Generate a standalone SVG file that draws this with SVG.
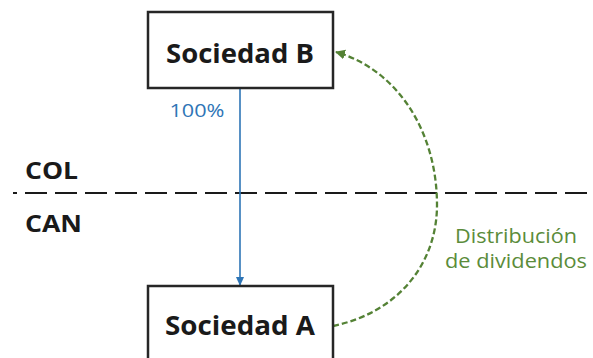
<svg xmlns="http://www.w3.org/2000/svg" width="593" height="358" viewBox="0 0 593 358">
<style>
.box{fill:#fff;stroke:#262626;stroke-width:2.5}
.lbl{font-family:"Open Sans","Liberation Sans",sans-serif;font-weight:bold;font-size:27px;fill:#1a1a1a;text-anchor:middle}
.side{font-family:"Open Sans","Liberation Sans",sans-serif;font-weight:bold;font-size:23px;fill:#1a1a1a}
.g{font-family:"Open Sans","Liberation Sans",sans-serif;font-size:20px;fill:#5B8C3A;text-anchor:middle}
</style>
<defs>
<marker id="ab" markerWidth="10" markerHeight="10" refX="8" refY="5" orient="auto" markerUnits="userSpaceOnUse"><path d="M0,1 L9,5 L0,9 Z" fill="#2E75B6"/></marker>
<marker id="ag" markerWidth="12" markerHeight="12" refX="9" refY="6" orient="auto" markerUnits="userSpaceOnUse"><path d="M0,1 L10,6 L0,11 Z" fill="#548235"/></marker>
</defs>
<g id="border">
<line x1="13" y1="193" x2="593" y2="193" stroke="#1a1a1a" stroke-width="2" stroke-dasharray="22,8" stroke-dashoffset="18"/>
<text class="side" x="25" y="179" textLength="53" lengthAdjust="spacingAndGlyphs">COL</text>
<text class="side" x="25" y="232" textLength="57" lengthAdjust="spacingAndGlyphs">CAN</text>
</g>
<g id="connectors">
<line x1="240" y1="88" x2="240" y2="285" stroke="#2E75B6" stroke-width="1.6" marker-end="url(#ab)"/>
<text x="197" y="117" font-family="'Open Sans','Liberation Sans',sans-serif" font-size="19" fill="#2E75B6" text-anchor="middle" textLength="55" lengthAdjust="spacingAndGlyphs">100%</text>
<path d="M333,326 C400,312 437,262 437,205 C437,132 398,70 336,52" fill="none" stroke="#548235" stroke-width="2.3" stroke-dasharray="6,3" marker-end="url(#ag)"/>
<text class="g" x="516" y="243" textLength="122" lengthAdjust="spacingAndGlyphs">Distribución</text>
<text class="g" x="516" y="268" textLength="142" lengthAdjust="spacingAndGlyphs">de dividendos</text>
</g>
<g id="nodeB">
<rect class="box" x="148" y="12" width="185" height="76"/>
<text class="lbl" x="240" y="63" textLength="148" lengthAdjust="spacingAndGlyphs">Sociedad B</text>
</g>
<g id="nodeA">
<rect class="box" x="148" y="286" width="185" height="80"/>
<text class="lbl" x="240" y="335" textLength="150" lengthAdjust="spacingAndGlyphs">Sociedad A</text>
</g>
</svg>
